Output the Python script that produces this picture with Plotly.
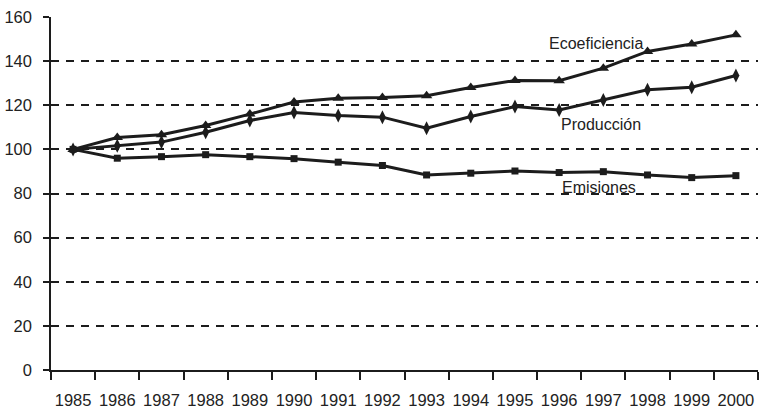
import plotly.graph_objects as go

# Índices 1985 = 100
years = [str(y) for y in range(1985, 2001)]
ecoeficiencia = [100, 105.4, 106.6, 110.8, 116.0, 121.5, 123.2, 123.5, 124.3,
                 128.0, 131.2, 131.1, 136.8, 144.4, 147.8, 151.9]
produccion = [100, 101.6, 103.3, 107.8, 113.1, 116.7, 115.3, 114.6, 109.6,
              114.9, 119.4, 117.9, 122.4, 127.0, 128.2, 133.5]
emisiones = [100, 96.0, 96.7, 97.6, 96.7, 95.8, 94.2, 92.7, 88.4,
             89.2, 90.2, 89.5, 89.9, 88.4, 87.2, 88.1]

y_ticks = [0, 20, 40, 60, 80, 100, 120, 140, 160]

INK = "#1c1c1c"
FONT = "Liberation Sans, Arial, Helvetica, sans-serif"

fig = go.Figure()

series = [
    ("Ecoeficiencia", ecoeficiencia, dict(symbol="triangle-up", size=10)),
    ("Producción", produccion, dict(symbol="diamond-tall", size=10)),
    ("Emisiones", emisiones, dict(symbol="square", size=7)),
]
for name, vals, marker in series:
    fig.add_trace(go.Scatter(
        x=years, y=vals, name=name, mode="lines+markers",
        line=dict(color=INK, width=3),
        marker=dict(color=INK, **marker),
        showlegend=False,
    ))

# Series labels next to their lines
labels = [
    ("Ecoeficiencia", 11.83, 148.2),
    ("Producción", 11.94, 111.5),
    ("Emisiones", 11.9, 82.6),
]
for text, xi, yv in labels:
    fig.add_annotation(x=xi, y=yv, xref="x", yref="y", text=text,
                       showarrow=False, font=dict(family=FONT, size=16, color="#222"))

n = len(years)
boundaries = [i - 0.5 for i in range(n + 1)]

fig.update_layout(
    width=763, height=408,
    margin=dict(l=51, r=5, t=17, b=38, autoexpand=False),
    paper_bgcolor="white", plot_bgcolor="white",
    font=dict(family=FONT, size=16, color="#222"),
    xaxis=dict(
        type="category", range=[-0.5, n - 0.5], automargin=False,
        showline=True, linecolor=INK, linewidth=1.5,
        ticks="outside", tickson="boundaries", ticklen=8, tickwidth=1.5,
        tickcolor=INK, showgrid=False, zeroline=False, tickangle=0,
        ticklabelstandoff=14,
        tickfont=dict(family=FONT, size=16.5, color="#222"),
    ),
    # companion axis so the boundary ticks cross the axis line
    xaxis2=dict(
        overlaying="x", anchor="y", side="bottom", type="linear",
        range=[-0.5, n - 0.5], tickvals=boundaries, automargin=False,
        ticks="inside", ticklen=8, tickwidth=1.5, tickcolor=INK,
        showticklabels=False, showgrid=False, zeroline=False, showline=False,
    ),
    yaxis=dict(
        range=[0, 160], tickvals=y_ticks, automargin=False,
        showline=True, linecolor=INK, linewidth=1.5,
        ticks="outside", ticklen=6, tickwidth=1.5, tickcolor=INK,
        showgrid=True, gridcolor=INK, gridwidth=1.5, griddash="8px,7px",
        zeroline=False, ticklabelstandoff=8,
        tickfont=dict(family=FONT, size=16.5, color="#222"),
    ),
)

fig.write_html("out.html")
